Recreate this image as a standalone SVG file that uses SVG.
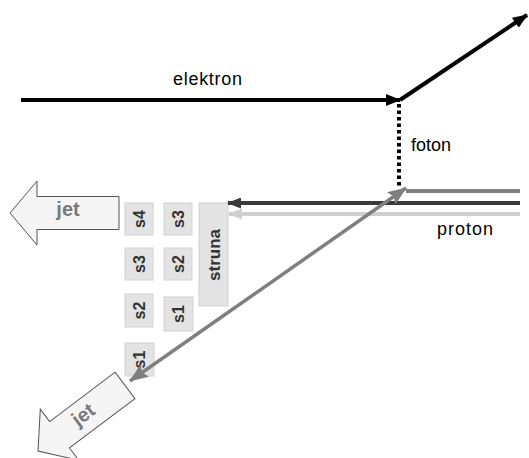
<svg xmlns="http://www.w3.org/2000/svg" width="529" height="458" viewBox="0 0 529 458">
<style>
  .lbl { font-family: "Liberation Sans", Arial, sans-serif; font-size: 18px; fill: #000; }
  .box { fill: #e3e3e3; stroke: #d2d2d2; stroke-width: 1; }
  .bt { font-family: "Liberation Sans", Arial, sans-serif; font-size: 16px; font-weight: bold; fill: #333; text-anchor: middle; }
  .jet { fill: #f5f5f5; stroke: #555; stroke-width: 1; }
  .jt { font-family: "Liberation Sans", Arial, sans-serif; font-size: 20px; font-weight: bold; fill: #7a7a7a; text-anchor: middle; }
</style>
<defs>
  <marker id="ahBlack" markerUnits="userSpaceOnUse" viewBox="0 0 15 12" refX="14" refY="6" markerWidth="15" markerHeight="12" orient="auto">
    <path d="M0,0 L15,6 L0,12 Z" fill="#000"/>
  </marker>
  <marker id="ahDark" markerUnits="userSpaceOnUse" viewBox="0 0 14 11" refX="13" refY="5.5" markerWidth="14" markerHeight="11" orient="auto">
    <path d="M0,0 L14,5.5 L0,11 Z" fill="#3a3a3a"/>
  </marker>
  <marker id="ahLight" markerUnits="userSpaceOnUse" viewBox="0 0 14 11" refX="13" refY="5.5" markerWidth="14" markerHeight="11" orient="auto">
    <path d="M0,0 L14,5.5 L0,11 Z" fill="#cfcfcf"/>
  </marker>
  <marker id="ahGray" markerUnits="userSpaceOnUse" viewBox="0 0 19 15" refX="18" refY="7.5" markerWidth="19" markerHeight="15" orient="auto-start-reverse">
    <path d="M0,0 L19,7.5 L0,15 L3,7.5 Z" fill="#7f7f7f"/>
  </marker>
  <path id="jetShape" d="M0,0 L27,-32 L27,-16.5 L109,-16.5 L109,16.5 L27,16.5 L27,32 Z"/>
</defs>

<g id="label-elektron"><text class="lbl" x="173" y="85" textLength="69">elektron</text></g>
<g id="label-foton"><text class="lbl" x="411" y="151">foton</text></g>
<g id="label-proton"><text class="lbl" x="437" y="235" textLength="56">proton</text></g>

<g id="jet-top" transform="translate(10,213)">
  <use href="#jetShape" class="jet"/>
  <text class="jt" x="58" y="3">jet</text>
</g>
<g id="jet-bottom" transform="translate(38,451) rotate(-37)">
  <use href="#jetShape" class="jet"/>
  <text class="jt" x="58" y="5">jet</text>
</g>

<g id="box-s4a"><rect class="box" x="125" y="203" width="28" height="32"/><text class="bt" transform="translate(144.5,219) rotate(-90)">s4</text></g>
<g id="box-s3b"><rect class="box" x="164" y="203" width="28" height="32"/><text class="bt" transform="translate(183.5,219) rotate(-90)">s3</text></g>
<g id="box-struna"><rect class="box" x="199" y="203" width="29" height="103"/><text class="bt" style="font-size:17px" transform="translate(219.5,255) rotate(-90)">struna</text></g>
<g id="box-s3a"><rect class="box" x="125" y="248" width="28" height="32"/><text class="bt" transform="translate(144.5,264) rotate(-90)">s3</text></g>
<g id="box-s2b"><rect class="box" x="164" y="248" width="28" height="32"/><text class="bt" transform="translate(183.5,264) rotate(-90)">s2</text></g>
<g id="box-s2a"><rect class="box" x="125" y="294" width="28" height="33"/><text class="bt" transform="translate(144.5,310.5) rotate(-90)">s2</text></g>
<g id="box-s1b"><rect class="box" x="164" y="297" width="29" height="34"/><text class="bt" transform="translate(183.5,314) rotate(-90)">s1</text></g>
<g id="box-s1a"><rect class="box" x="125" y="343" width="29" height="33"/><text class="bt" transform="translate(144.5,359.5) rotate(-90)">s1</text></g>

<g id="connectors">
  <line id="electron-in" x1="21" y1="100" x2="400" y2="100" stroke="#000" stroke-width="4" marker-end="url(#ahBlack)"/>
  <line id="electron-out" x1="400" y1="100" x2="527" y2="15" stroke="#000" stroke-width="4" marker-end="url(#ahBlack)"/>
  <line id="foton-line" x1="399" y1="104" x2="399" y2="188" stroke="#000" stroke-width="4" stroke-dasharray="3.5,3"/>
  <line id="proton-light" x1="520" y1="214" x2="229" y2="214" stroke="#cfcfcf" stroke-width="4" marker-end="url(#ahLight)"/>
  <line id="proton-dark" x1="520" y1="203" x2="228" y2="203" stroke="#3a3a3a" stroke-width="4" marker-end="url(#ahDark)"/>
  <line id="proton-gray" x1="520" y1="191" x2="406" y2="191" stroke="#7f7f7f" stroke-width="4"/>
  <line id="diagonal" x1="406" y1="188" x2="130" y2="381" stroke="#7f7f7f" stroke-width="3.5" marker-start="url(#ahGray)" marker-end="url(#ahGray)"/>
</g>
</svg>
